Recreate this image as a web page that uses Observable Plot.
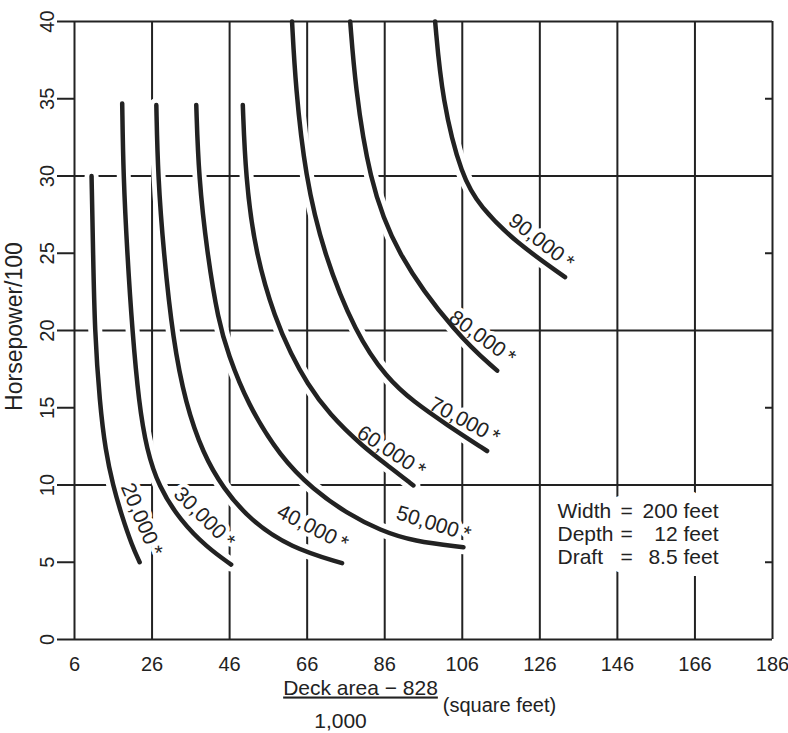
<!DOCTYPE html>
<html><head><meta charset="utf-8">
<script src="https://cdn.jsdelivr.net/npm/d3@7"></script>
<script src="https://cdn.jsdelivr.net/npm/@observablehq/plot@0.6"></script>
<style>
body{margin:0;background:#fff;}
#chart svg{display:block;}
</style></head><body><div id="chart"></div>
<script>
// Axis ticks
const xTicks = [6, 26, 46, 66, 86, 106, 126, 146, 166, 186];
const yTicks = [0, 5, 10, 15, 20, 25, 30, 35, 40];
const yGrid = [10, 20, 30];
const yRightTicks = [5, 15, 25, 35];

// Curves: [x, y] (x = (deck area − 828)/1000, y = horsepower/100)
const seriesNames = ["20,000", "30,000", "40,000", "50,000", "60,000", "70,000", "80,000", "90,000"];
const curve20000 = [[10.4,30],[10.8,25],[11.2,20],[12.5,15.3],[14.0,12.2],[15.9,10],[18.2,8],[20.8,6.1],[22.8,5.0]];
const curve30000 = [[18.3,34.7],[18.6,30],[19.6,25],[20.9,20],[22.6,15.3],[24.6,12.3],[27.7,9.9],[33.3,7.7],[40.2,5.95],[46.4,4.85]];
const curve40000 = [[27.1,34.6],[27.5,30],[29.0,25],[31.4,19.4],[34.6,15.3],[39.2,12],[44.3,9.8],[51.4,7.7],[61.7,5.95],[75.0,4.94]];
const curve50000 = [[37.4,34.6],[38.0,30],[40.2,25],[43.1,20.6],[45.6,18.5],[50.5,15.3],[59.1,11.8],[67.6,9.7],[76.3,8.15],[84.9,7.05],[93.4,6.35],[106.3,5.97]];
const curve60000 = [[49.4,34.6],[50.1,30],[52.6,25],[57.9,20.65],[61.8,18.5],[65.9,16.6],[71.6,14.6],[80.5,12.45],[87.4,11.15],[93.4,9.97]];
const curve70000 = [[62.1,40],[63.0,35.8],[65.5,30],[70.2,25],[78.5,19.8],[86.6,16.9],[93.4,15.4],[102.0,13.9],[112.4,12.2]];
const curve80000 = [[77.1,40],[78.4,35.8],[81.9,29.9],[88.7,25],[104.6,19.7],[115.0,17.4]];
const curve90000 = [[99.0,40],[100.8,34.9],[105.9,29.9],[110.7,28.0],[119.3,25.8],[132.5,23.45]];
const curves = [curve20000, curve30000, curve40000, curve50000, curve60000, curve70000, curve80000, curve90000];

// Curve labels (anchor in data units, angle in degrees)
const labelX = [23.3, 39.5, 67.4, 98.6, 87.7, 106.6, 111.2, 126.4];
const labelY = [7.77, 7.9, 7.25, 7.5, 12.17, 14.17, 19.55, 25.76];
const labelAngle = [67, 45, 27, 17, 33, 28, 36, 38];

// Note
const noteLabels = ["Width", "Depth", "Draft"];
const noteValues = ["200 feet", "12 feet", "8.5 feet"];

const xTitle = "Deck area − 828";
const xTitleDen = "1,000";
const xTitleUnit = "(square feet)";
const yTitle = "Horsepower/100";

const rows = seriesNames.flatMap((s, i) => curves[i].map(([x, y]) => ({series: s, x, y})));
const labels = seriesNames.map((s, i) => ({text: s + "\u2009*", x: labelX[i], y: labelY[i], a: labelAngle[i]}));

const ink = "#222";
const font = "'Liberation Sans', Arial, Helvetica, sans-serif";

const noteCols = [
  {text: noteLabels.join("\n"), dx: -215, anchor: "start"},
  {text: noteLabels.map(() => "=").join("\n"), dx: -146, anchor: "middle"},
  {text: noteValues.join("\n"), dx: -54, anchor: "end"}
];
const noteMarks = (halo) => noteCols.map(c => Plot.text([c.text], {
  frameAnchor: "bottom-right", dx: c.dx, dy: -75.5, textAnchor: c.anchor, lineHeight: 1.1, fontSize: 21,
  fill: halo ? "white" : ink, stroke: halo ? "white" : null, strokeWidth: halo ? 24 : null, strokeLinejoin: "round"
}));

const chart = Plot.plot({
  width: 788, height: 733,
  marginTop: 21, marginRight: 16, marginBottom: 94, marginLeft: 74,
  x: {domain: [6, 186]},
  y: {domain: [0, 40]},
  style: {fontFamily: font, fontSize: "20px", color: ink, background: "white"},
  marks: [
    Plot.ruleX(xTicks.slice(1, -1), {stroke: ink, strokeWidth: 2}),
    Plot.ruleY(yGrid, {stroke: ink, strokeWidth: 2}),
    // white halo under curves breaks the grid lines
    Plot.line(rows, {x: "x", y: "y", z: "series", stroke: "white", strokeWidth: 14, curve: "basis"}),
    ...noteMarks(true),
    ...noteMarks(false),
    // curve labels
    Plot.text(labels, {x: "x", y: "y", text: "text", rotate: "a", fontSize: 21, fill: ink, stroke: "white", strokeWidth: 8, strokeLinejoin: "round", paintOrder: "stroke"}),
    // curves
    Plot.line(rows, {x: "x", y: "y", z: "series", stroke: ink, strokeWidth: 4.5, curve: "basis"}),
    // frame
    Plot.ruleX([6, 186], {stroke: ink, strokeWidth: 2}),
    Plot.ruleY([0, 40], {stroke: ink, strokeWidth: 2}),
    Plot.axisY(yTicks, {anchor: "left", tickSize: 17, tickRotate: -90, tickPadding: 4, strokeWidth: 2, label: null}),
    Plot.axisY(yRightTicks, {anchor: "right", tickSize: -8, strokeWidth: 2, tickFormat: () => "", label: null}),
    Plot.axisX(xTicks, {anchor: "bottom", tickSize: 0, tickPadding: 17, label: null}),
    Plot.text([xTitle], {frameAnchor: "bottom", dx: -63, dy: 55, fontSize: 21, fill: ink}),
    Plot.text([xTitleDen], {frameAnchor: "bottom", dx: -83, dy: 88, fontSize: 21, fill: ink}),
    Plot.text([xTitleUnit], {frameAnchor: "bottom", dx: 76, dy: 72, fontSize: 20, fill: ink}),
    Plot.text([yTitle], {frameAnchor: "left", dx: -60, dy: -4, rotate: -90, textAnchor: "middle", fontSize: 23, fill: ink})
  ]
});

d3.select(chart).selectAll("text").filter(function() { return this.textContent === xTitle; })
  .style("text-decoration", "underline");

document.getElementById("chart").appendChild(chart);
</script>
</body></html>
